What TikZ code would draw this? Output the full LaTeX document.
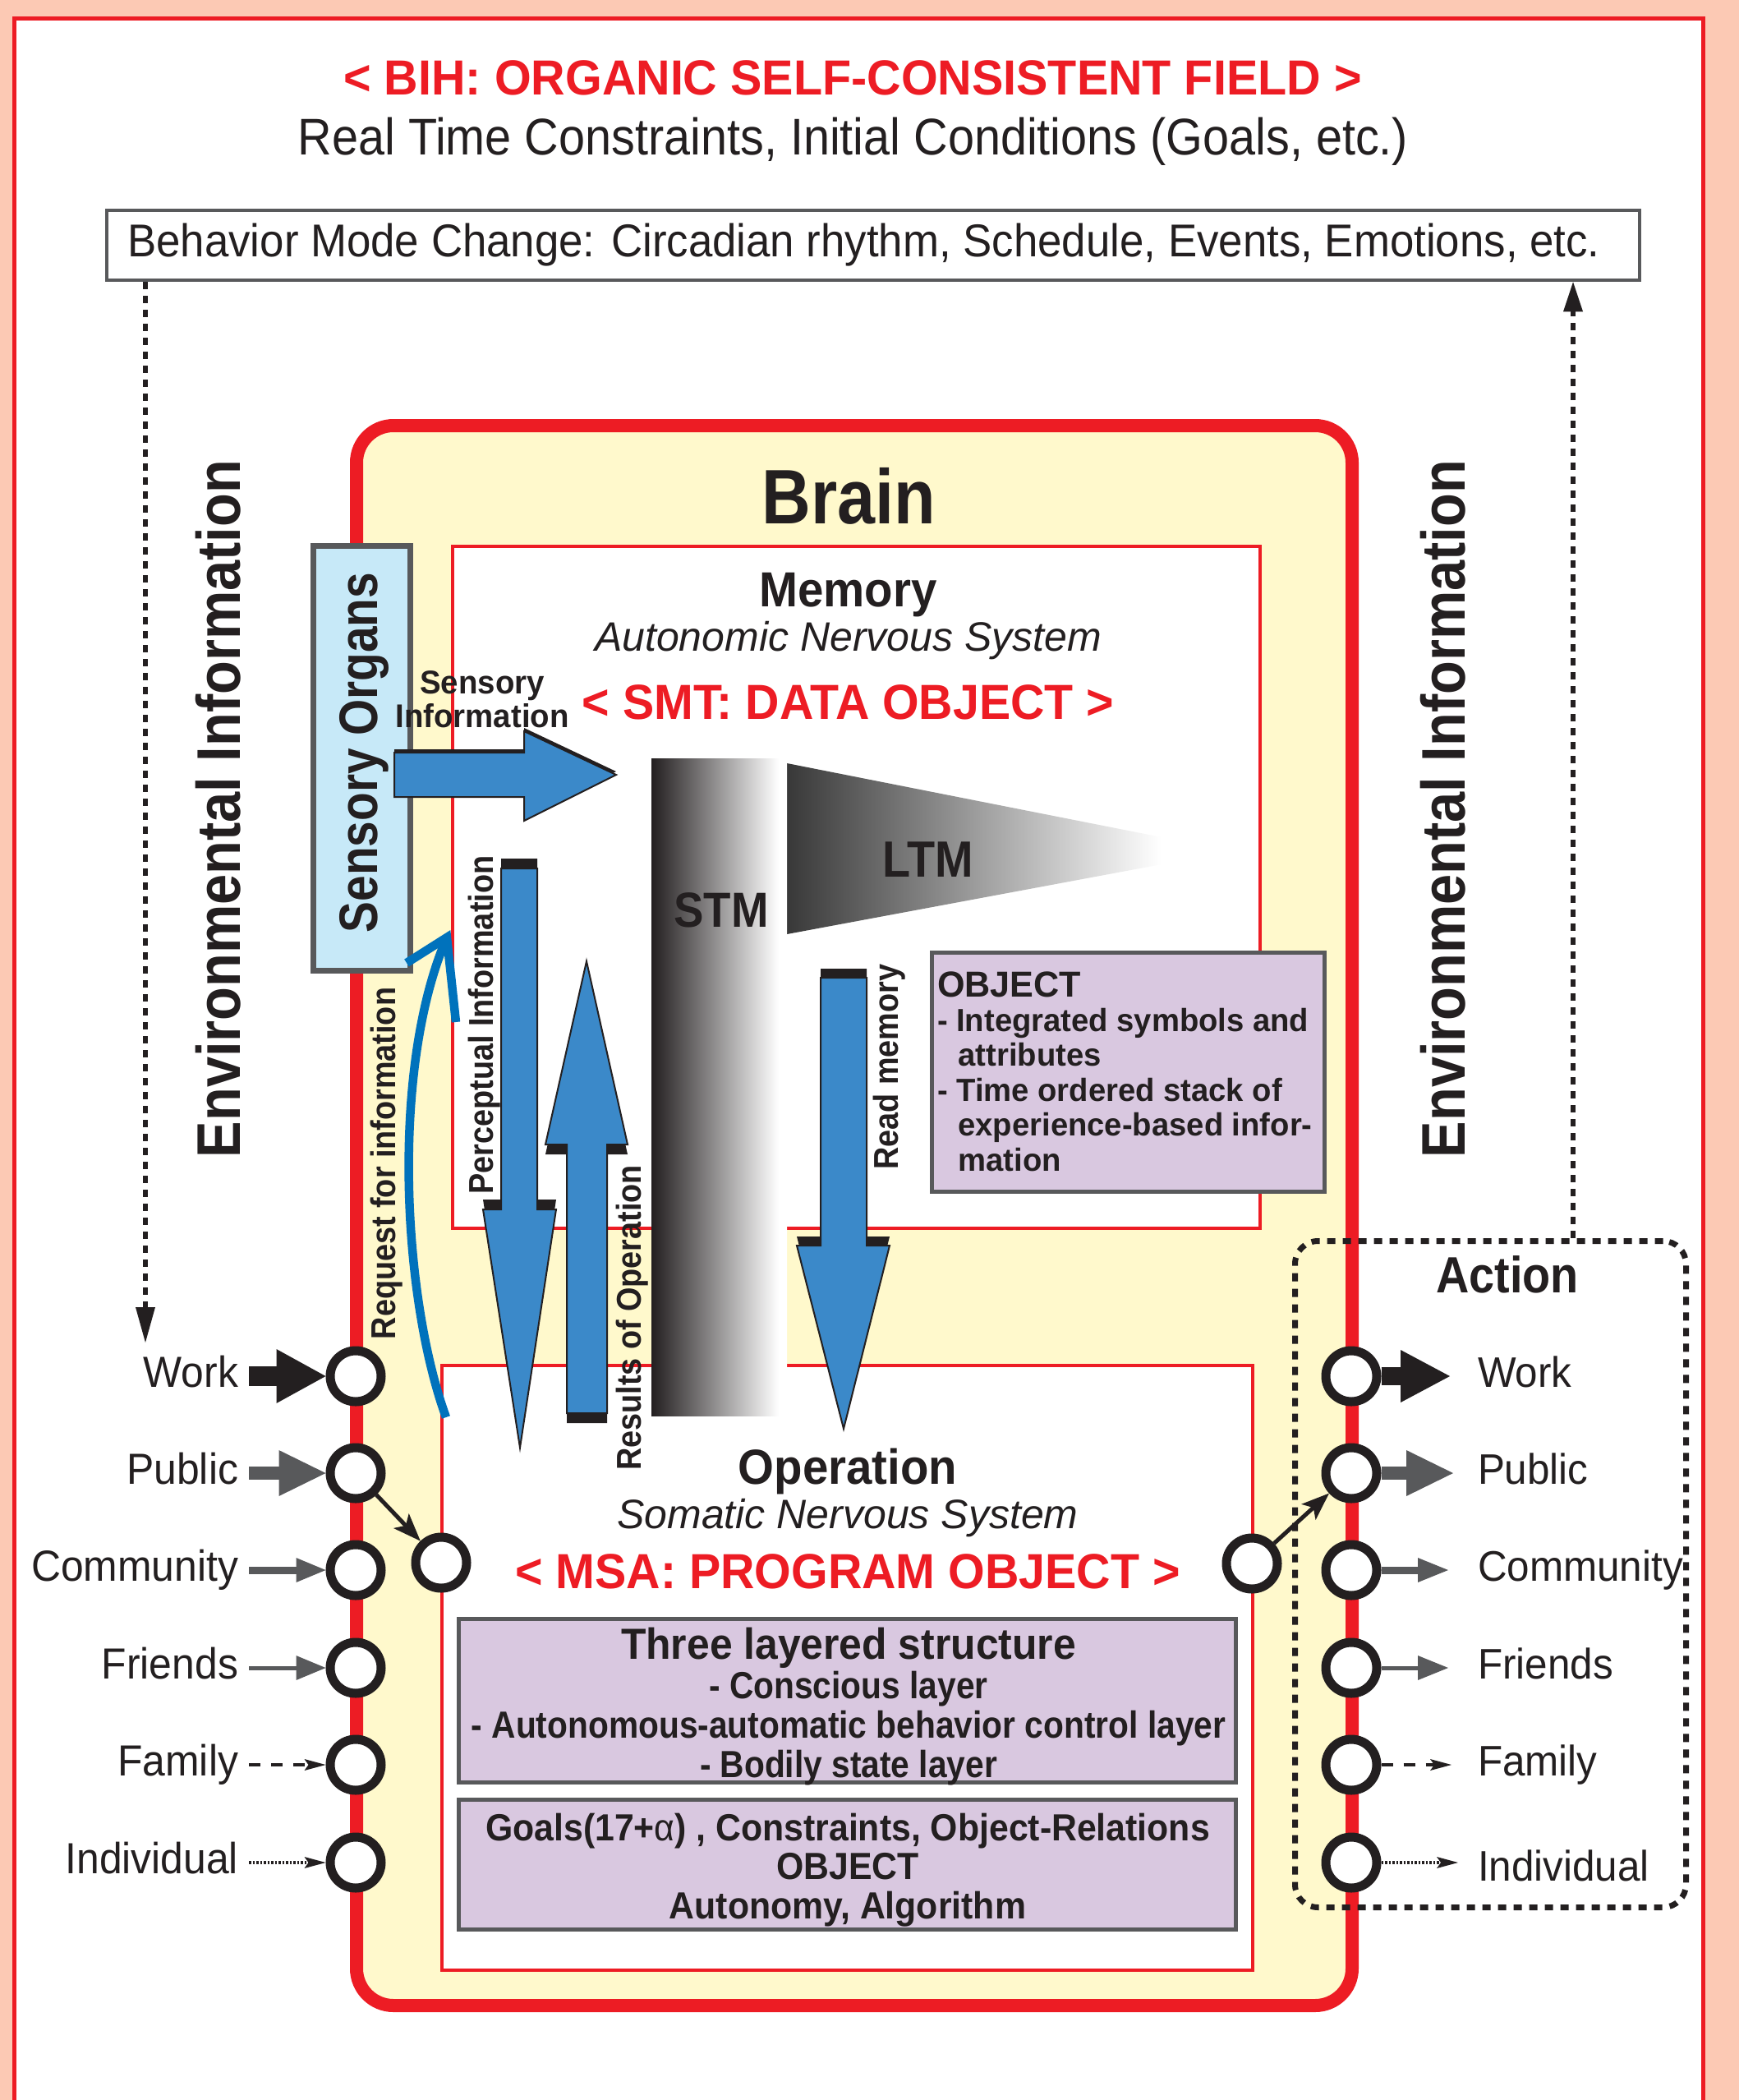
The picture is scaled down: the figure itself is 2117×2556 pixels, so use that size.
\documentclass[tikz,border=0pt]{standalone}
\usepackage{fontspec}
\setmainfont{Liberation Sans}
\usepackage{graphicx}
\usetikzlibrary{arrows.meta}
\definecolor{peach}{HTML}{FCC9B4}
\definecolor{fred}{HTML}{ED1C24}
\definecolor{byel}{HTML}{FFF9CC}
\definecolor{lav}{HTML}{D9C8E0}
\definecolor{lblue}{HTML}{C7E9F8}
\definecolor{dgray}{HTML}{58595B}
\definecolor{tx}{HTML}{231F20}
\definecolor{ablue}{HTML}{3B89C9}
\definecolor{rblue}{HTML}{0072BC}
\newcommand{\ft}[2]{\fontsize{#1}{#2}\selectfont}
\newcommand{\sx}[2]{\scalebox{#1}[1]{#2}}
\pgfdeclarehorizontalshading{stmshade}{100bp}{color(0bp)=(tx); color(25bp)=(tx); color(72bp)=(white); color(100bp)=(white)}
\pgfdeclarehorizontalshading{ltmshade}{100bp}{color(0bp)=(black!78); color(25bp)=(black!78); color(67bp)=(white); color(100bp)=(white)}
\tikzset{
  txt/.style={inner sep=0pt, outer sep=0pt, text=tx},
  circ/.style={circle, draw=tx, fill=white, line width=11pt, minimum size=62pt, inner sep=0pt},
  redbox/.style={draw=fred, line width=4pt, fill=white, inner sep=0pt},
  lavbox/.style={draw=dgray, line width=5pt, fill=lav, inner sep=0pt},
  dotln/.style={draw=tx, line width=6pt, dash pattern=on 9pt off 8pt},
  rotlbl/.style={txt, rotate=90, anchor=base},
  lbl/.style={txt, anchor=base east},
  rlbl/.style={txt, anchor=base west},
  blockarr/.style n args={4}{draw=#4, line width=#1, -{Triangle[length=#2, width=#3, line width=0pt, fill=#4]}},
  smallarr/.style={draw=tx, line width=4pt, -{Stealth[length=26pt, width=14pt, inset=5pt, line width=0pt, fill=tx]}},
  blueout/.style={fill=ablue, draw=tx, line width=2pt}
}
\begin{document}
\begin{tikzpicture}[x=1pt,y=-1pt]
% background and frame
\fill[peach] (0,0) rectangle (2117,2556);
\useasboundingbox (0,0) rectangle (2117,2556);
\fill[white] (17.5,22.5) rectangle (2073.5,2556);
\draw[fred, line width=5pt] (17.5,2570) -- (17.5,22.5) -- (2073.5,22.5) -- (2073.5,2570);

% titles
\node[txt, anchor=base, text=fred] (title) at (1038,115) {\bfseries\ft{60}{72}\sx{0.958}{< BIH: ORGANIC SELF-CONSISTENT FIELD >}};
\node[txt, anchor=base] (subtitle) at (1038.5,188) {\ft{62.8}{75}\sx{0.917}{Real Time Constraints, Initial Conditions (Goals, etc.)}};
\node[draw=dgray, line width=4.5pt, fill=white, minimum width=1866pt, minimum height=85pt, inner sep=0pt, text=tx] (behavior) at (1063,298.5) {\ft{56}{66}\sx{0.943}{Behavior Mode Change: Circadian rhythm, Schedule, Events, Emotions, etc.}\kern23pt};

% environmental information
\node[rotlbl] (envl) at (292,984.5) {\bfseries\ft{75}{90}\sx{0.89}{Environmental Information}};
\node[rotlbl] (envr) at (1783,984.5) {\bfseries\ft{75}{90}\sx{0.89}{Environmental Information}};

% brain
\node[draw=fred, line width=16pt, fill=byel, rounded corners=45pt, minimum width=1212pt, minimum height=1923pt, inner sep=0pt] (brain) at (1040,1479.5) {};
\node[txt, anchor=base] (brainlbl) at (1033,637) {\bfseries\ft{94}{110}\sx{0.88}{Brain}};

% action box
\node[draw=tx, line width=7pt, dash pattern=on 10pt off 9pt, rounded corners=28pt, minimum width=476pt, minimum height=811pt, inner sep=0pt] (action) at (1814.5,1916) {};
\node[txt, anchor=base] (actlbl) at (1835,1573) {\bfseries\ft{62}{72}\sx{0.9}{Action}};

% memory and operation boxes
\node[redbox, minimum width=983pt, minimum height=830pt] (memory) at (1042.5,1080) {};
\node[redbox, minimum width=987pt, minimum height=736pt] (operation) at (1031.5,2030) {};

\node[txt, anchor=base] (memt) at (1032.5,738) {\bfseries\ft{60}{72}\sx{0.94}{Memory}};
\node[txt, anchor=base] (ans) at (1032.5,792) {\itshape\ft{50}{60}Autonomic Nervous System};
\node[txt, anchor=base, text=fred] (smt) at (1032.5,875) {\bfseries\ft{60}{72}\sx{0.955}{< SMT: DATA OBJECT >}};

\node[txt, anchor=base] (opt) at (1032,1806) {\bfseries\ft{60}{72}\sx{0.94}{Operation}};
\node[txt, anchor=base] (sns) at (1032,1860) {\itshape\ft{50}{60}Somatic Nervous System};
\node[txt, anchor=base, text=fred] (msa) at (1032,1933) {\bfseries\ft{60}{72}\sx{0.956}{< MSA: PROGRAM OBJECT >}};

% LTM / STM
\shade[shading=ltmshade] (958,929) -- (1500,1036) -- (958,1137) -- cycle;
\shade[shading=stmshade] (793,923) rectangle (958,1723);
\node[txt, anchor=base] (stm) at (878,1128) {\bfseries\ft{60}{72}\sx{0.91}{STM}};
\node[txt, anchor=base] (ltm) at (1130,1067) {\bfseries\ft{62}{72}\sx{0.9}{LTM}};

% lavender boxes
\node[lavbox, minimum width=478pt, minimum height=291pt] (objbox) at (1373.5,1305) {};
\node[txt, anchor=base west] (objtxt) at (1141,1213) {\sx{0.98}{\parbox[t]{490pt}{\bfseries\ft{39}{42.4}{\ft{44}{42.4}OBJECT}\\- Integrated symbols and\\\hspace*{26pt}attributes\\- Time ordered stack of\\\hspace*{26pt}experience-based infor-\\\hspace*{26pt}mation}}};

\node[lavbox, minimum width=946pt, minimum height=199pt] (tlbox) at (1031.5,2070) {};
\node[txt, anchor=base] (tltxt) at (1033,2019) {\parbox[t]{940pt}{\centering\bfseries\ft{46}{48}\sx{0.94}{\ft{53}{48}Three layered structure}\\\sx{0.885}{- Conscious layer}\\\sx{0.885}{- Autonomous-automatic behavior control layer}\\\sx{0.885}{- Bodily state layer}}};

\node[lavbox, minimum width=946pt, minimum height=158pt] (goalbox) at (1031.5,2269.5) {};
\node[txt, anchor=base] (goaltxt) at (1032,2240) {\parbox[t]{940pt}{\centering\bfseries\ft{46}{47.5}\sx{0.93}{Goals(17+{\mdseries α}) , Constraints, Object-Relations}\\\sx{0.93}{OBJECT}\\\sx{0.93}{Autonomy, Algorithm}}};

% blue block arrows: perceptual (down)
\fill[tx, yshift=12pt] (610,1057) -- (654,1057) -- (654,1472) -- (677,1472) -- (633,1762) -- (588,1472) -- (610,1472) -- cycle;
\filldraw[blueout] (610,1057) -- (654,1057) -- (654,1472) -- (677,1472) -- (633,1762) -- (588,1472) -- (610,1472) -- cycle;
% results of operation (up)
\fill[tx, yshift=-12pt] (690,1720) -- (690,1393) -- (664,1393) -- (714,1170) -- (764,1393) -- (739,1393) -- (739,1720) -- cycle;
\filldraw[blueout] (690,1720) -- (690,1393) -- (664,1393) -- (714,1170) -- (764,1393) -- (739,1393) -- (739,1720) -- cycle;
% read memory (down)
\fill[tx, yshift=11pt] (999,1190) -- (1055,1190) -- (1055,1516) -- (1083,1516) -- (1027,1739) -- (970,1516) -- (999,1516) -- cycle;
\filldraw[blueout] (999,1190) -- (1055,1190) -- (1055,1516) -- (1083,1516) -- (1027,1739) -- (970,1516) -- (999,1516) -- cycle;

% sensory organs
\node[draw=dgray, line width=7pt, fill=lblue, minimum width=118pt, minimum height=517pt, inner sep=0pt] (sorg) at (440.5,923) {};
\node[rotlbl] (sorglbl) at (459,916) {\bfseries\ft{66}{80}\sx{0.86}{Sensory Organs}};
\fill[tx, yshift=4pt] (480,916) -- (638,916) -- (638,890) -- (750,943) -- (638,999) -- (638,970) -- (480,970) -- cycle;
\filldraw[blueout] (480,916) -- (638,916) -- (638,890) -- (750,943) -- (638,999) -- (638,970) -- (480,970) -- cycle;
\node[txt, anchor=base] (sinfo) at (587,844) {\parbox[t]{250pt}{\centering\bfseries\ft{40}{41}\sx{0.96}{Sensory}\\\sx{0.96}{Information}}};

% request for information (curved arrow)
\coordinate (reqs) at (543,1725);
\coordinate (reqe) at (544,1141);
\draw[rblue, line width=10.5pt] (reqs) .. controls (490,1580) and (475,1300) .. (reqe);
\draw[rblue, line width=10.5pt, miter limit=20] (495,1172) -- (reqe) -- (555,1244);

% rotated labels
\node[rotlbl] (perclbl) at (600,1247.5) {\bfseries\ft{42}{50}\sx{0.9}{Perceptual Information}};
\node[rotlbl] (reqlbl) at (481,1416) {\bfseries\ft{42}{50}\sx{0.9}{Request for information}};
\node[rotlbl] (reslbl) at (780,1604) {\bfseries\ft{42}{50}\sx{0.9}{Results of Operation}};
\node[rotlbl] (readlbl) at (1093,1298.5) {\bfseries\ft{42}{50}\sx{0.9}{Read memory}};

% dotted behaviour arrows
\coordinate (ldt) at (177,1634);
\coordinate (rdt) at (1915,0);
\draw[dotln, -{Triangle[length=43pt,width=24pt,line width=0pt,fill=tx]}] (behavior.south -| ldt) -- (ldt);
\draw[dotln, -{Triangle[length=36pt,width=24pt,line width=0pt,fill=tx]}] (action.north -| rdt) -- (behavior.south -| rdt);

% circles
\foreach \n/\y in {1/1675,2/1793,3/1911,4/2030,5/2148,6/2267} {
  \node[circ] (lc\n) at (433,\y) {};
  \node[circ] (rc\n) at (1645,\y) {};
}
\node[circ] (lx) at (537,1902) {};
\node[circ] (rx) at (1524,1903) {};

% left labels
\node[lbl] (lw) at (290,1688) {\ft{53}{60}\sx{0.94}{Work}};
\node[lbl] (lp) at (290,1806) {\ft{53}{60}\sx{0.94}{Public}};
\node[lbl] (lcm) at (290,1924) {\ft{53}{60}\sx{0.94}{Community}};
\node[lbl] (lf) at (290,2043) {\ft{53}{60}\sx{0.94}{Friends}};
\node[lbl] (lfa) at (290,2161) {\ft{53}{60}\sx{0.94}{Family}};
\node[lbl] (li) at (290,2280) {\ft{53}{60}\sx{0.94}{Individual}};

% right labels
\node[rlbl] (rw) at (1799,1688) {\ft{52}{60}\sx{0.95}{Work}};
\node[rlbl] (rp) at (1799,1806) {\ft{52}{60}\sx{0.95}{Public}};
\node[rlbl] (rcm) at (1799,1924) {\ft{52}{60}\sx{0.95}{Community}};
\node[rlbl] (rf) at (1799,2043) {\ft{52}{60}\sx{0.95}{Friends}};
\node[rlbl] (rfa) at (1799,2161) {\ft{52}{60}\sx{0.95}{Family}};
\node[rlbl] (ri) at (1799,2289) {\ft{52}{60}\sx{0.95}{Individual}};

% input arrows
\draw[blockarr={24pt}{60pt}{66pt}{tx}, shorten <=13pt] (lw.east |- lc1) -- (lc1);
\draw[blockarr={16pt}{57pt}{56pt}{dgray}, shorten <=13pt] (lp.east |- lc2) -- (lc2);
\draw[blockarr={9pt}{36pt}{30pt}{dgray}, shorten <=13pt] (lcm.east |- lc3) -- (lc3);
\draw[blockarr={5pt}{36pt}{30pt}{dgray}, shorten <=13pt] (lf.east |- lc4) -- (lc4);
\draw[smallarr, dash pattern=on 14pt off 13pt, shorten <=13pt] (lfa.east |- lc5) -- (lc5);
\draw[smallarr, dash pattern=on 2.5pt off 2pt, shorten <=13pt] (li.east |- lc6) -- (lc6);

% output arrows
\draw[blockarr={22pt}{60pt}{64pt}{tx}, shorten >=34pt] (rc1) -- (rw.west |- rc1);
\draw[blockarr={16pt}{57pt}{56pt}{dgray}, shorten >=30pt] (rc2) -- (rp.west |- rc2);
\draw[blockarr={9pt}{37pt}{30pt}{dgray}, shorten >=36pt] (rc3) -- (rcm.west |- rc3);
\draw[blockarr={5pt}{37pt}{30pt}{dgray}, shorten >=36pt] (rc4) -- (rf.west |- rc4);
\draw[smallarr, dash pattern=on 14pt off 13pt, shorten >=32pt] (rc5) -- (rfa.west |- rc5);
\draw[smallarr, dash pattern=on 2.5pt off 2pt, shorten >=24pt] (rc6) -- (ri.west |- rc6);

% links to operation
\draw[tx, line width=5pt, -{Stealth[length=34pt,width=26pt,inset=8pt,line width=0pt,fill=tx]}] (lc2) -- (lx);
\draw[tx, line width=5pt, -{Stealth[length=34pt,width=26pt,inset=8pt,line width=0pt,fill=tx]}] (rx) -- (rc2);
\end{tikzpicture}
\end{document}
